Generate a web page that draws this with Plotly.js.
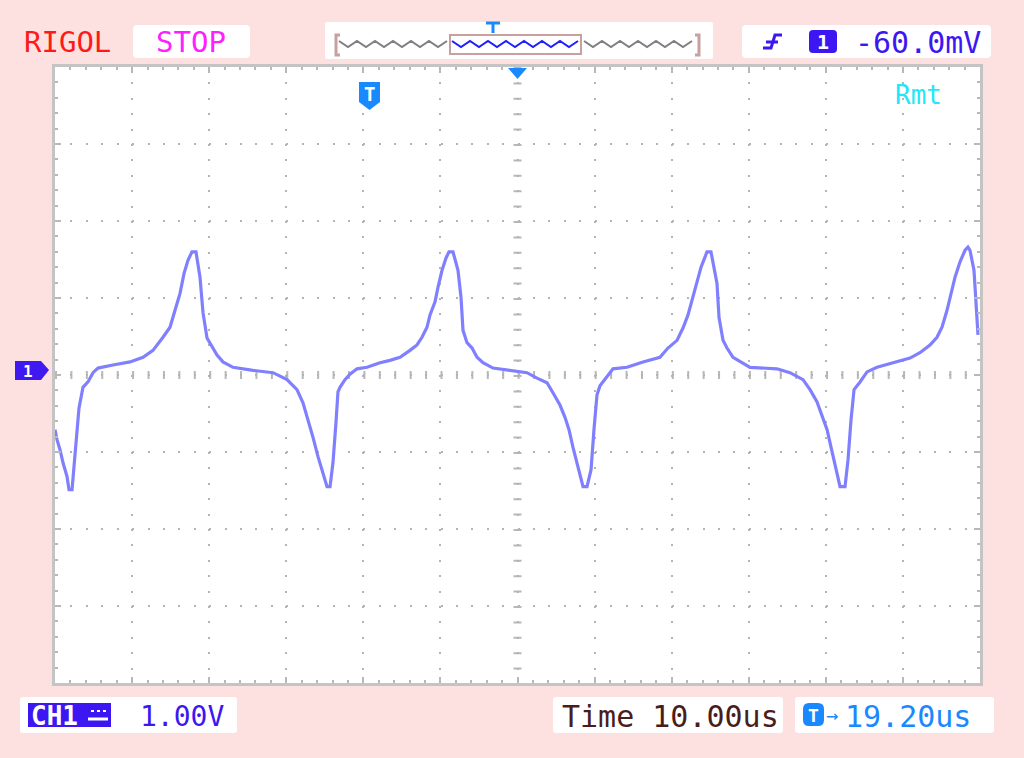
<!DOCTYPE html>
<html><head><meta charset="utf-8">
<script src="https://cdn.plot.ly/plotly-3.0.1.min.js"></script>
<style>html,body{margin:0;padding:0;background:#fde0e0;}#chart{width:1024px;height:758px;}</style>
</head><body><div id="chart"></div>
<script>
// ---- data (time in microseconds, voltage in volts) ----
const timeUs = [0,0.26,0.65,1.04,1.56,1.82,2.21,2.34,2.72,3.11,3.63,4.28,4.93,5.58,7.52,9.73,11.42,12.71,14.01,14.92,15.57,16.22,16.74,17.25,17.77,18.29,18.81,19.20,19.72,20.37,21.02,21.79,23.09,25.69,28.28,30.10,31.39,32.17,32.82,33.47,34.12,34.77,35.29,35.68,36.06,36.45,36.71,36.97,37.62,38.27,39.18,40.48,42.16,43.46,44.76,46.05,46.96,47.61,48.26,48.65,49.30,49.69,50.21,50.73,51.11,51.63,52.28,52.67,52.93,53.45,54.10,54.75,55.52,56.82,59.41,61.23,62.53,63.83,64.60,65.51,66.16,66.68,67.20,67.72,68.11,68.50,69.02,69.54,69.92,70.31,70.70,71.61,72.39,74.20,76.28,78.48,79.52,80.69,81.47,82.12,82.77,83.29,83.81,84.32,84.58,85.10,85.88,86.14,86.66,87.18,87.96,89.12,90.16,93.66,95.35,97.04,97.95,98.86,99.51,100.16,100.68,101.06,101.45,101.84,102.49,102.88,103.27,103.66,104.44,105.34,106.64,108.71,110.92,112.21,113.51,114.42,115.07,115.72,116.24,116.76,117.41,118.06,118.44,118.70,119.22,119.48,119.74];
const voltsV = [-0.71,-0.84,-0.97,-1.14,-1.32,-1.49,-1.49,-1.34,-0.94,-0.43,-0.16,-0.09,0.03,0.09,0.13,0.17,0.23,0.32,0.49,0.62,0.84,1.06,1.32,1.49,1.60,1.60,1.27,0.81,0.48,0.36,0.26,0.17,0.10,0.06,0.03,-0.06,-0.19,-0.36,-0.58,-0.81,-1.06,-1.27,-1.45,-1.45,-1.14,-0.62,-0.22,-0.16,-0.06,0.01,0.08,0.10,0.16,0.19,0.23,0.32,0.39,0.49,0.62,0.78,0.95,1.14,1.36,1.52,1.60,1.60,1.36,1.01,0.58,0.42,0.35,0.23,0.16,0.09,0.06,0.03,-0.04,-0.10,-0.23,-0.39,-0.55,-0.71,-0.94,-1.14,-1.32,-1.45,-1.45,-1.23,-0.71,-0.26,-0.14,-0.03,0.08,0.10,0.17,0.23,0.35,0.45,0.61,0.78,1.01,1.23,1.40,1.53,1.60,1.60,1.19,0.75,0.45,0.35,0.23,0.16,0.10,0.08,0.03,-0.06,-0.19,-0.35,-0.52,-0.71,-0.94,-1.10,-1.27,-1.45,-1.45,-1.10,-0.58,-0.19,-0.09,0.04,0.10,0.16,0.22,0.29,0.39,0.49,0.62,0.84,1.06,1.27,1.47,1.62,1.66,1.62,1.36,0.97,0.52];
const timePerDiv = 10;   // us/div
const voltPerDiv = 1;    // V/div
const timeRange = [0, 120];
const voltRange = [-4, 4];
const brandText = 'RIGOL';
const runText = 'STOP';
const trigLevelText = '-60.0mV';
const chScaleText = '1.00V';
const timeText = 'Time 10.00us';
const delayText = '19.20us';
const remoteText = 'Rmt';

// ---- layout helpers (pixel -> paper) ----
const L = 55, R = 980, T = 67, B = 683;
const px = x => (x - L) / (R - L);
const py = y => (B - y) / (B - T);
const mono = 'DejaVu Sans Mono';
const shapes = [];
const ann = [];
function rrect(x0, y0, x1, y1, r, fill, line) {
  const p = [
    'M', px(x0 + r), py(y0), 'L', px(x1 - r), py(y0), 'Q', px(x1), py(y0), px(x1), py(y0 + r),
    'L', px(x1), py(y1 - r), 'Q', px(x1), py(y1), px(x1 - r), py(y1),
    'L', px(x0 + r), py(y1), 'Q', px(x0), py(y1), px(x0), py(y1 - r),
    'L', px(x0), py(y0 + r), 'Q', px(x0), py(y0), px(x0 + r), py(y0), 'Z'
  ].join(' ');
  shapes.push({type: 'path', xref: 'paper', yref: 'paper', path: p, fillcolor: fill,
    line: line || {width: 0}, layer: 'below'});
}
function poly(pts, fill, lineColor, lw, closed) {
  let p = pts.map((q, i) => (i ? 'L ' : 'M ') + px(q[0]) + ' ' + py(q[1])).join(' ');
  if (closed) p += ' Z';
  shapes.push({type: 'path', xref: 'paper', yref: 'paper', path: p,
    fillcolor: fill || 'rgba(0,0,0,0)', line: {color: lineColor || 'rgba(0,0,0,0)', width: lw || 0}});
}
function text(t, x, y, color, size, xanchor, extra) {
  ann.push(Object.assign({text: t, x: px(x), y: py(y), xref: 'paper', yref: 'paper',
    showarrow: false, xanchor: xanchor || 'left', yanchor: 'middle',
    font: {family: mono, size: size, color: color}}, extra || {}));
}
function zigzag(x0, x1, color) {
  const pts = [];
  let up = true;
  for (let x = x0; x <= x1; x += 9) { pts.push([x, up ? 41 : 47]); up = !up; }
  poly(pts, null, color, 2, false);
}

// top bar
text(brandText, 22, 42, '#ff1a1a', 29);
rrect(133, 25, 250, 58, 4, '#ffffff');
text(runText, 191, 42, '#ff20ff', 29, 'center');
rrect(325, 22, 713, 59, 2, '#ffffff');
poly([[340, 35], [336, 35], [336, 55], [340, 55]], null, '#c8a0a0', 3);
poly([[695, 35], [699, 35], [699, 55], [695, 55]], null, '#c8a0a0', 3);
zigzag(339, 449, '#808080');
zigzag(452, 580, '#2020ff');
zigzag(584, 694, '#808080');
shapes.push({type: 'rect', xref: 'paper', yref: 'paper', x0: px(450), x1: px(581), y0: py(35), y1: py(54),
  line: {color: '#c8a0a0', width: 2}});
poly([[486, 23], [500, 23]], null, '#1a88ff', 3);
poly([[493, 23], [493, 33]], null, '#1a88ff', 3);
rrect(742, 25, 991, 58, 4, '#ffffff');
poly([[763, 48], [771, 48], [775, 35], [782, 35]], null, '#3d17f2', 3);
poly([[766, 42], [778, 42]], null, '#3d17f2', 3);
rrect(809, 30, 837, 53, 4, '#3d17f2');
text('1', 823, 42, '#ffffff', 20, 'center', {font: {family: mono, size: 20, color: '#ffffff', weight: 'bold'}});
text(trigLevelText, 853, 42, '#3d17f2', 30);

// bottom bar
rrect(20, 697, 237, 733, 3, '#ffffff');
shapes.push({type: 'rect', xref: 'paper', yref: 'paper', x0: px(28), x1: px(111), y0: py(703), y1: py(727),
  fillcolor: '#3d17f2', line: {width: 0}});
text('CH1', 29, 716, '#ffffff', 26, 'left', {font: {family: mono, size: 26, color: '#ffffff', weight: 'bold'}});
poly([[88, 719], [108, 719]], null, '#ffffff', 3);
poly([[91, 711], [107, 711]], null, '#ffffff', 2);
shapes[shapes.length - 1].line.dash = '3px,3px';
text(chScaleText, 138, 716, '#3d17f2', 28);
rrect(553, 697, 783, 733, 3, '#ffffff');
text(timeText, 560, 716, '#4b1c1c', 30);
rrect(795, 697, 994, 733, 3, '#ffffff');
rrect(803, 703, 824, 726, 6, '#1a88ff');
text('T', 813.5, 715, '#ffffff', 18, 'center', {font: {family: mono, size: 18, color: '#ffffff', weight: 'bold'}});
text('→', 832, 715, '#1a88ff', 20, 'center');
text(delayText, 843, 716, '#1a88ff', 30);

// markers
poly([[15, 361], [41, 361], [49, 370], [41, 380], [15, 380]], '#4018f0', null, 0, true);
text('1', 28, 371, '#ffffff', 16, 'center', {font: {family: mono, size: 16, color: '#ffffff', weight: 'bold'}});
poly([[359, 82], [380, 82], [380, 102], [369.5, 110], [359, 102]], '#1a88ff', null, 0, true);
text('T', 369.5, 94, '#ffffff', 19, 'center', {font: {family: mono, size: 19, color: '#ffffff', weight: 'bold'}});
poly([[508, 68], [527, 68], [517.5, 79]], '#1a88ff', null, 0, true);
text(remoteText, 893, 95, '#20e8f8', 26);

// centre cross tick marks (data-referenced)
shapes.push({type: 'line', xref: 'x', yref: 'y', x0: timeRange[0], x1: timeRange[1], y0: 0, y1: 0,
  line: {color: '#b8b8b8', width: 8, dash: '2px,13.42px'}, layer: 'below'});
shapes.push({type: 'line', xref: 'x', yref: 'y', x0: 60, x1: 60, y0: voltRange[1], y1: voltRange[0],
  line: {color: '#b8b8b8', width: 8, dash: '2px,13.4px'}, layer: 'below'});

const axisCommon = {
  showgrid: true, gridcolor: '#b4b4b4', gridwidth: 2, zeroline: false, showticklabels: false,
  ticks: 'inside', ticklen: 6, tickwidth: 2, tickcolor: '#b8b8b8',
  showline: true, linecolor: '#c4c4c4', linewidth: 3, mirror: 'ticks', fixedrange: true
};
const layout = {
  width: 1024, height: 758,
  margin: {l: L, r: 1024 - R, t: T, b: 758 - B, pad: 0},
  paper_bgcolor: '#fde0e0', plot_bgcolor: '#ffffff',
  showlegend: false,
  xaxis: Object.assign({}, axisCommon, {range: timeRange, dtick: timePerDiv, tick0: 0, griddash: '2px,13.4px',
    minor: {dtick: timePerDiv / 5, ticks: 'inside', ticklen: 3, tickwidth: 2, tickcolor: '#b8b8b8', showgrid: false}}),
  yaxis: Object.assign({}, axisCommon, {range: voltRange, dtick: voltPerDiv, tick0: 0, griddash: '2px,13.42px',
    minor: {dtick: voltPerDiv / 5, ticks: 'inside', ticklen: 3, tickwidth: 2, tickcolor: '#b8b8b8', showgrid: false}}),
  shapes: shapes,
  annotations: ann
};
const trace = {x: timeUs, y: voltsV, type: 'scatter', mode: 'lines',
  line: {color: '#8080ff', width: 3.2}, hoverinfo: 'skip'};
Plotly.newPlot('chart', [trace], layout, {staticPlot: true, displayModeBar: false});
</script></body></html>
